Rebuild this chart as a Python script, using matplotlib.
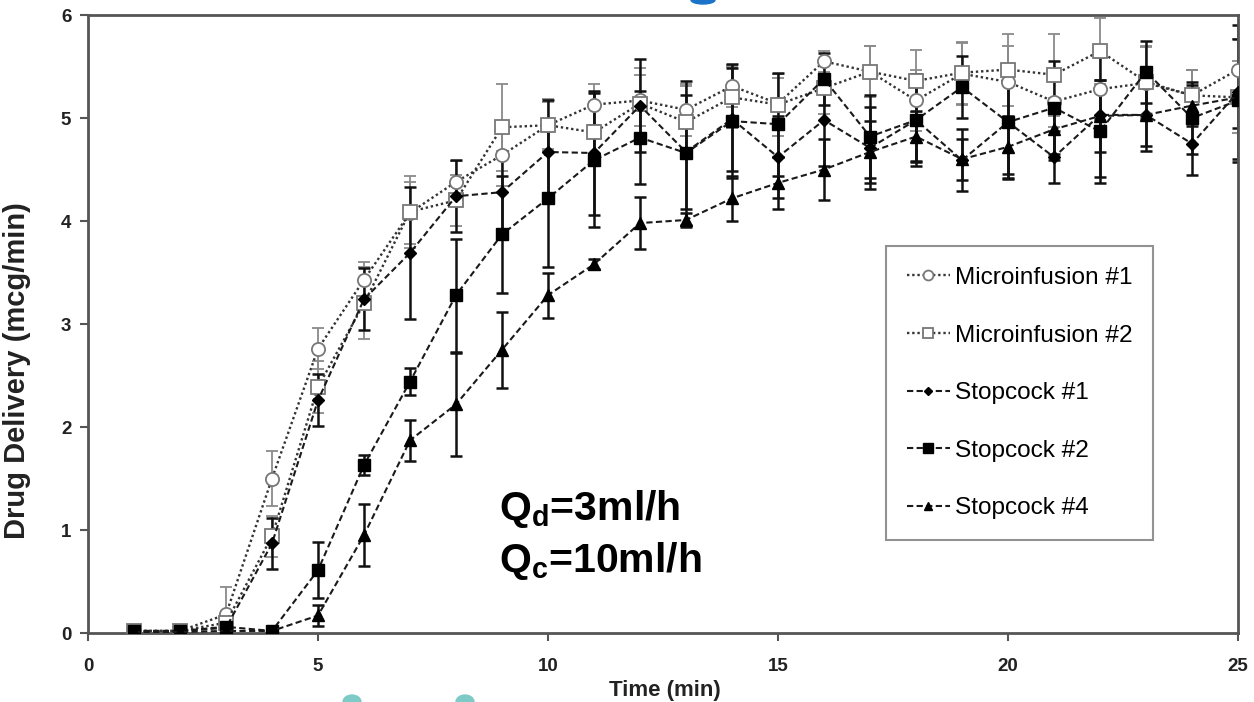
import matplotlib
matplotlib.use("Agg")
import matplotlib.pyplot as plt
from matplotlib.patches import Ellipse

plt.rcParams['font.family'] = ['Liberation Sans', 'DejaVu Sans']
plt.rcParams['mathtext.fontset'] = 'custom'
plt.rcParams['mathtext.rm'] = 'Liberation Sans:bold'
plt.rcParams['mathtext.default'] = 'rm'

# ---- data ----
time_min = list(range(1, 26))

micro1 = [0.02, 0.02, 0.18, 1.50, 2.76, 3.43, 4.08, 4.38, 4.64, 4.93, 5.13, 5.17, 5.08,
          5.31, 5.14, 5.55, 5.45, 5.17, 5.43, 5.35, 5.16, 5.28, 5.34, 5.22, 5.47]
micro1_err = [0.02, 0.02, 0.27, 0.27, 0.20, 0.17, 0.30, 0.20, 0.30, 0.23, 0.20, 0.25, 0.25,
              0.20, 0.25, 0.10, 0.25, 0.30, 0.30, 0.35, 0.25, 0.30, 0.35, 0.25, 0.30]

micro2 = [0.02, 0.02, 0.10, 0.94, 2.39, 3.20, 4.09, 4.20, 4.91, 4.93, 4.86, 5.14, 4.96,
          5.20, 5.13, 5.29, 5.45, 5.36, 5.44, 5.47, 5.42, 5.65, 5.35, 5.22, 5.20]
micro2_err = [0.02, 0.02, 0.10, 0.20, 0.25, 0.35, 0.35, 0.25, 0.42, 0.25, 0.30, 0.35, 0.35,
              0.30, 0.30, 0.25, 0.25, 0.30, 0.30, 0.35, 0.40, 0.32, 0.35, 0.25, 0.35]

stop1 = [0.02, 0.02, 0.05, 0.87, 2.26, 3.24, 3.69, 4.24, 4.28, 4.67, 4.66, 5.12, 4.67,
         4.99, 4.62, 4.98, 4.71, 4.98, 4.59, 4.96, 4.62, 5.03, 5.03, 4.75, 5.25]
stop1_err = [0.02, 0.02, 0.05, 0.25, 0.25, 0.30, 0.64, 0.35, 0.40, 0.50, 0.60, 0.45, 0.55,
             0.50, 0.40, 0.45, 0.40, 0.40, 0.30, 0.50, 0.25, 0.60, 0.35, 0.30, 0.65]

stop2 = [0.02, 0.02, 0.06, 0.02, 0.61, 1.63, 2.44, 3.28, 3.87, 4.22, 4.59, 4.81, 4.66,
         4.97, 4.94, 5.38, 4.82, 4.98, 5.30, 4.96, 5.10, 4.87, 5.45, 5.00, 5.17]
stop2_err = [0.02, 0.02, 0.05, 0.05, 0.27, 0.10, 0.13, 0.55, 0.57, 0.67, 0.65, 0.45, 0.70,
             0.55, 0.50, 0.25, 0.40, 0.45, 0.30, 0.55, 0.45, 0.50, 0.30, 0.35, 0.60]

stop4 = [0.01, 0.01, 0.02, 0.02, 0.17, 0.95, 1.87, 2.22, 2.75, 3.28, 3.58, 3.98, 4.01,
         4.22, 4.37, 4.50, 4.67, 4.82, 4.60, 4.72, 4.89, 5.02, 5.03, 5.12, 5.20]
stop4_err = [0.01, 0.01, 0.02, 0.02, 0.10, 0.30, 0.20, 0.50, 0.37, 0.22, 0.05, 0.25, 0.07,
             0.22, 0.25, 0.30, 0.30, 0.25, 0.20, 0.30, 0.30, 0.35, 0.30, 0.20, 0.30]

labels = ["Microinfusion #1", "Microinfusion #2", "Stopcock #1", "Stopcock #2", "Stopcock #4"]
xticks = [0, 5, 10, 15, 20, 25]
yticks = [0, 1, 2, 3, 4, 5, 6]

# ---- figure ----
fig = plt.figure(figsize=(12.54, 7.02), dpi=100)
ax = fig.add_axes([0.07018, 0.09829, 0.91707, 0.88034])

series = [
    (micro1, micro1_err, dict(marker='o', ms=9.5, mfc='white', mec='#777777', mew=1.3,
                              color='#333333', ls=(0, (1, 1.2)), lw=1.7), '#8a8a8a', 1.3),
    (micro2, micro2_err, dict(marker='s', ms=9.5, mfc='white', mec='#777777', mew=1.3,
                              color='#333333', ls=(0, (1, 1.2)), lw=1.7), '#8a8a8a', 1.3),
    (stop1, stop1_err, dict(marker='D', ms=6, mfc='black', mec='black',
                            color='#1a1a1a', ls=(0, (3, 1.6)), lw=1.5), '#111111', 1.8),
    (stop2, stop2_err, dict(marker='s', ms=9, mfc='black', mec='black',
                            color='#1a1a1a', ls=(0, (3, 1.6)), lw=1.5), '#111111', 1.8),
    (stop4, stop4_err, dict(marker='^', ms=8, mfc='black', mec='black',
                            color='#1a1a1a', ls=(0, (3, 1.6)), lw=1.5), '#111111', 1.8),
]

handles = []
for (vals, errs, st, ecol, elw), lab in zip(series, labels):
    ax.errorbar(time_min, vals, yerr=errs, fmt='none', ecolor=ecol, elinewidth=elw,
                capsize=4, capthick=elw, zorder=2)
    h, = ax.plot(time_min, vals, label=lab, zorder=3, **st)
    handles.append(h)

ax.set_xlim(0, 25)
ax.set_ylim(0, 6)
ax.set_xticks(xticks)
ax.set_yticks(yticks)
ax.tick_params(axis='both', direction='out', length=6, width=1.5, color='#555555',
               labelsize=13.5, labelcolor='#222222')
ax.tick_params(axis='x', pad=12)
ax.tick_params(axis='y', pad=6)
for lbl in ax.get_xticklabels() + ax.get_yticklabels():
    lbl.set_fontweight('bold')
for sp in ax.spines.values():
    sp.set_color('#555555')
    sp.set_linewidth(2)

ax.set_ylabel("Drug Delivery (mcg/min)", fontsize=21, fontweight='bold', color='#222222')
ax.yaxis.set_label_coords(-0.050, 0.425)
ax.set_xlabel("Time (min)", fontsize=16, fontweight='bold', color='#222222')
ax.xaxis.set_label_coords(0.502, -0.076)

ax.text(0.357, 0.183, "Q$_{d}$=3ml/h", transform=ax.transAxes, fontsize=29.5,
        fontweight='bold', va='baseline', ha='left')
ax.text(0.357, 0.099, "Q$_{c}$=10ml/h", transform=ax.transAxes, fontsize=29.5,
        fontweight='bold', va='baseline', ha='left')

leg = ax.legend(handles=handles, loc='upper left', bbox_to_anchor=(0.694, 0.626),
                fontsize=17.6, frameon=True, fancybox=False, edgecolor='#777777',
                handlelength=1.75, handletextpad=0.2, labelspacing=1.45,
                borderpad=0.85, borderaxespad=0, markerscale=0.75)
leg.get_frame().set_linewidth(1.5)

# image artifacts at edges of the original
fig.patches.append(Ellipse((703 / 1254, 1.0), 24 / 1254, 8 / 702, transform=fig.transFigure,
                           color='#1a73c8', zorder=0))
for cx in (352, 465):
    fig.patches.append(Ellipse((cx / 1254, 0.0), 18 / 1254, 14 / 702,
                               transform=fig.transFigure, color='#7ecac6', zorder=0))

fig.savefig("out.png", dpi=100)
